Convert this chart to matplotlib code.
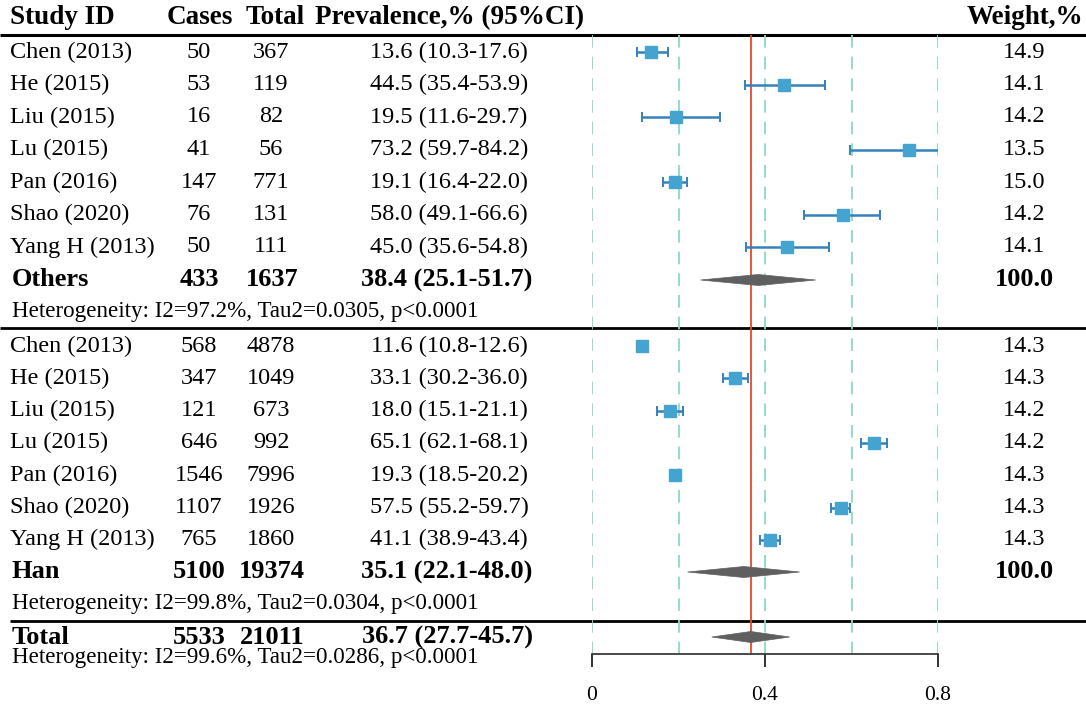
import matplotlib
matplotlib.use("Agg")
import matplotlib.pyplot as plt
from matplotlib.patches import Polygon
import numpy as np

plt.rcParams['font.family'] = ['Liberation Serif', 'DejaVu Serif']

# ---------------- data ----------------
studies = ['Chen (2013)', 'He (2015)', 'Liu (2015)', 'Lu (2015)', 'Pan (2016)',
           'Shao (2020)', 'Yang H (2013)']

others_cases = [50, 53, 16, 41, 147, 76, 50]
others_total = [367, 119, 82, 56, 771, 131, 111]
others_prev = [13.6, 44.5, 19.5, 73.2, 19.1, 58.0, 45.0]
others_lo = [10.3, 35.4, 11.6, 59.7, 16.4, 49.1, 35.6]
others_hi = [17.6, 53.9, 29.7, 84.2, 22.0, 66.6, 54.8]
others_weight = [14.9, 14.1, 14.2, 13.5, 15.0, 14.2, 14.1]
others_pooled = [433, 1637, 38.4, 25.1, 51.7]
others_het = 'Heterogeneity: I2=97.2%, Tau2=0.0305, p<0.0001'

han_cases = [568, 347, 121, 646, 1546, 1107, 765]
han_total = [4878, 1049, 673, 992, 7996, 1926, 1860]
han_prev = [11.6, 33.1, 18.0, 65.1, 19.3, 57.5, 41.1]
han_lo = [10.8, 30.2, 15.1, 62.1, 18.5, 55.2, 38.9]
han_hi = [12.6, 36.0, 21.1, 68.1, 20.2, 59.7, 43.4]
han_weight = [14.3, 14.3, 14.2, 14.2, 14.3, 14.3, 14.3]
han_pooled = [5100, 19374, 35.1, 22.1, 48.0]
han_het = 'Heterogeneity: I2=99.8%, Tau2=0.0304, p<0.0001'

total_pooled = [5533, 21011, 36.7, 27.7, 45.7]
total_het = 'Heterogeneity: I2=99.6%, Tau2=0.0286, p<0.0001'

group_names = ['Others', 'Han']
headers = ['Study ID', 'Cases', 'Total', 'Prevalence,% (95%CI)', 'Weight,%']
x_ticks = [0, 0.4, 0.8]
x_tick_labels = ['0', '0.4', '0.8']
grid_x = [0, 0.2, 0.4, 0.6, 0.8]

# ---------------- layout ----------------
W, H = 1086, 706
fig = plt.figure(figsize=(W / 100, H / 100), dpi=100)

# text axes in pixel coordinates
axt = fig.add_axes([0, 0, 1, 1])
axt.set_xlim(0, W)
axt.set_ylim(H, 0)
axt.axis('off')

# forest axes
fx0, fx1 = 592, 938
fy_top, fy_bot = 35, 654
axf = fig.add_axes([fx0 / W, (H - fy_bot) / H, (fx1 - fx0) / W, (fy_bot - fy_top) / H])
axf.set_xlim(0, 0.8)
axf.set_ylim(fy_bot, fy_top)
axf.patch.set_alpha(0)
for s in ['top', 'left', 'right']:
    axf.spines[s].set_visible(False)
axf.spines['bottom'].set_color('#3a3a3a')
axf.spines['bottom'].set_linewidth(1.3)
axf.set_yticks([])
axf.set_xticks(x_ticks)
axf.set_xticklabels(x_tick_labels, fontsize=15.5)
axf.tick_params(axis='x', direction='out', length=9.5, width=1.3, color='#222222', pad=13.5)

# column positions
X_STUDY = 10
X_CASES = 199
X_TOTAL = 271
X_PREV = 449
X_W = 1024

FS = 17.5
FS_B = 19
FS_H = 19.5
FS_HET = 16.6

# header
axt.text(X_STUDY, 18, headers[0], fontsize=FS_H, fontweight='bold', ha='left', va='center')
axt.text(200, 18, headers[1], fontsize=FS_H, fontweight='bold', ha='center', va='center')
axt.text(275, 18, headers[2], fontsize=FS_H, fontweight='bold', ha='center', va='center')
axt.text(450, 18, headers[3], fontsize=FS_H, fontweight='bold', ha='center', va='center')
axt.text(1083, 18, headers[4], fontsize=FS_H, fontweight='bold', ha='right', va='center')

# horizontal rules
axt.plot([0, W], [35, 35], color='black', lw=2.2, solid_capstyle='butt')
axt.plot([0, W], [328, 328], color='black', lw=2.0, solid_capstyle='butt')
axt.plot([10, W], [621, 621], color='black', lw=2.0, solid_capstyle='butt')

# vertical reference lines
axf.vlines(grid_x, fy_top, fy_bot, colors='#8ed8c2', linestyles=(0, (7, 5)), lw=1.3, zorder=1)
axf.vlines(total_pooled[2] / 100, fy_top, fy_bot, colors='#e8462c', lw=1.3, zorder=2)

SQ_COLOR = '#44a3cf'
BAR_COLOR = '#3581bd'
DIA_COLOR = '#5f5f5f'


def diamond(ax, est, lo, hi, y, h=5.5):
    poly = Polygon([[lo / 100, y], [est / 100, y - h], [hi / 100, y], [est / 100, y + h]],
                   closed=True, facecolor=DIA_COLOR, edgecolor=DIA_COLOR, lw=0.5,
                   zorder=4, clip_on=False)
    ax.add_patch(poly)


def draw_group(y0, step, name, cases, totals, prev, lo, hi, weights, pooled, het, y_sum, y_het):
    ys = [y0 + step * i for i in range(len(studies))]
    for i, s in enumerate(studies):
        y = ys[i]
        axt.text(X_STUDY, y, s, fontsize=FS, ha='left', va='center')
        axt.text(X_CASES, y, str(cases[i]), fontsize=FS, ha='center', va='center')
        axt.text(X_TOTAL, y, str(totals[i]), fontsize=FS, ha='center', va='center')
        axt.text(X_PREV, y, f'{prev[i]:.1f} ({lo[i]:.1f}-{hi[i]:.1f})', fontsize=FS,
                 ha='center', va='center')
        axt.text(X_W, y, f'{weights[i]:.1f}', fontsize=FS, ha='center', va='center')
    p = np.array(prev) / 100
    err = np.vstack([p - np.array(lo) / 100, np.array(hi) / 100 - p])
    axf.errorbar(p, ys, xerr=err, fmt='s', ms=8, mfc=SQ_COLOR, mec=SQ_COLOR,
                 ecolor=BAR_COLOR, elinewidth=1.8, capsize=3.8, capthick=1.4, zorder=5)
    axt.text(X_STUDY + 2, y_sum, name, fontsize=FS_B, fontweight='bold', ha='left', va='center')
    axt.text(X_CASES, y_sum, str(pooled[0]), fontsize=FS_B, fontweight='bold', ha='center', va='center')
    axt.text(X_TOTAL + 1, y_sum, str(pooled[1]), fontsize=FS_B, fontweight='bold', ha='center', va='center')
    axt.text(X_PREV - 2, y_sum, f'{pooled[2]:.1f} ({pooled[3]:.1f}-{pooled[4]:.1f})', fontsize=FS_B,
             fontweight='bold', ha='center', va='center')
    axt.text(X_W, y_sum, '100.0', fontsize=FS_B, fontweight='bold', ha='center', va='center')
    diamond(axf, pooled[2], pooled[3], pooled[4], y_sum)
    axt.text(X_STUDY + 2, y_het, het, fontsize=FS_HET, ha='left', va='center')


draw_group(52, 32.5, group_names[0], others_cases, others_total, others_prev, others_lo,
           others_hi, others_weight, others_pooled, others_het, 280, 312)
draw_group(346, 32.3, group_names[1], han_cases, han_total, han_prev, han_lo,
           han_hi, han_weight, han_pooled, han_het, 572, 604)

# total row
axt.text(X_STUDY + 2, 637, 'Total', fontsize=FS_B, fontweight='bold', ha='left', va='center')
axt.text(X_CASES, 637, str(total_pooled[0]), fontsize=FS_B, fontweight='bold', ha='center', va='center')
axt.text(X_TOTAL + 1, 637, str(total_pooled[1]), fontsize=FS_B, fontweight='bold', ha='center', va='center')
axt.text(X_PREV - 2, 637, f'{total_pooled[2]:.1f} ({total_pooled[3]:.1f}-{total_pooled[4]:.1f})',
         fontsize=FS_B, fontweight='bold', ha='center', va='center')
diamond(axf, total_pooled[2], total_pooled[3], total_pooled[4], 637)
axt.text(X_STUDY + 2, 658, total_het, fontsize=FS_HET, ha='left', va='center')

fig.savefig('out.png', dpi=100)
